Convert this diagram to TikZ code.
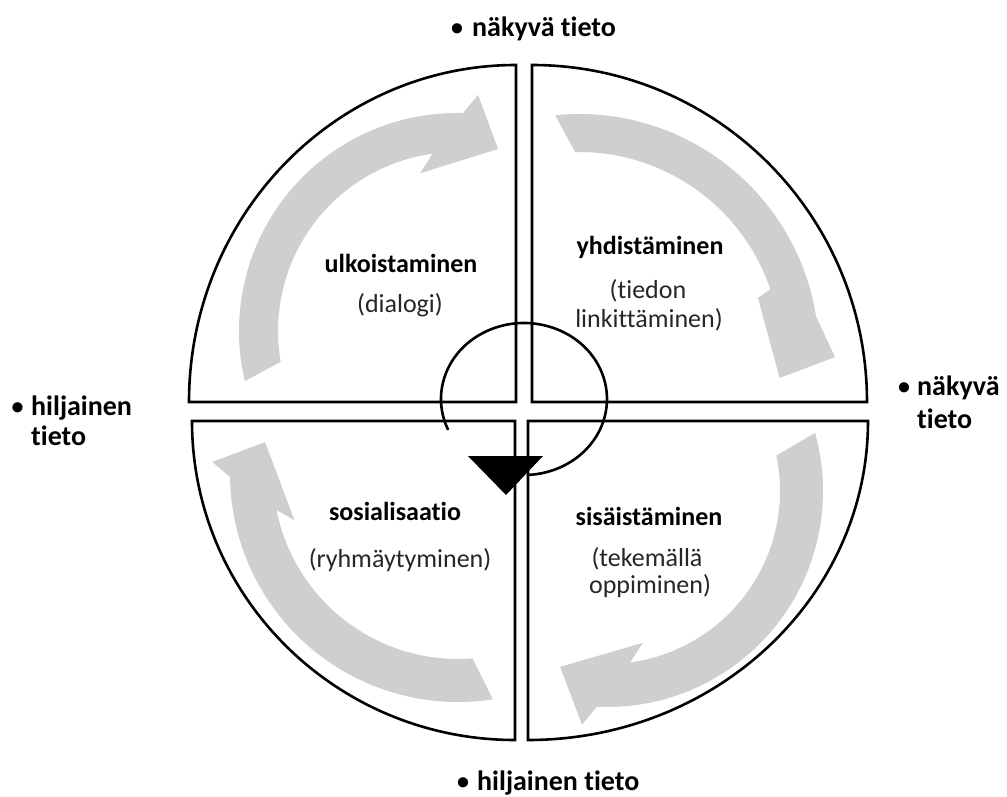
\documentclass[tikz,border=0pt]{standalone}
\usepackage{fontspec}
\setmainfont{Carlito}[Ligatures={NoCommon,NoContextual}]
\usetikzlibrary{calc}
\definecolor{arrowgray}{RGB}{208,206,206}
\definecolor{txt}{RGB}{38,38,38}
\begin{document}
\begin{tikzpicture}[x=1pt,y=-1pt,
  quad/.style={draw=black,fill=white,line width=2.6pt},
  band/.style={fill=arrowgray},
  lbl/.style={font=\fontsize{26}{31}\selectfont\bfseries,anchor=base,inner sep=0pt},
  sub/.style={font=\fontsize{26}{31}\selectfont,anchor=base,inner sep=0pt,text=txt},
  outer/.style={font=\fontsize{28}{33}\selectfont\bfseries,anchor=base west,inner sep=0pt},
  bul/.style={font=\fontsize{24}{28}\selectfont\bfseries,anchor=base,inner sep=0pt}]
\useasboundingbox (0,0) rectangle (1007,797);
% quadrants
\draw[quad] (516,402) -- (189,402) arc[start angle=180,end angle=270,x radius=327,y radius=337] -- cycle;
\draw[quad] (532,402) -- (532,65) arc[start angle=270,end angle=360,x radius=335,y radius=337] -- cycle;
\draw[quad] (528,421) -- (868,421) arc[start angle=0,end angle=90,x radius=340,y radius=319] -- cycle;
\draw[quad] (515,421) -- (515,740) arc[start angle=90,end angle=180,x radius=323,y radius=319] -- cycle;
% curved gray arrows
\coordinate (cTL) at (457,331);
\coordinate (cTR) at (579,354);
\coordinate (cBR) at (607,491);
\coordinate (cBL) at (458,474);
\fill[band] ($(cTL)+(-193.3:218)$) arc[start angle=-193.3,end angle=-88.4,radius=218]
  -- ($(cTL)+(-84.9:237)$) -- ($(cTL)+(-77.3:186.6)$) -- ($(cTL)+(-103.2:162)$)
  -- ($(cTL)+(-97.8:179)$) arc[start angle=-97.8,end angle=-189.9,radius=179] -- cycle;
\fill[band] ($(cTR)+(-95.7:240)$) arc[start angle=-95.7,end angle=-9.0,radius=240]
  -- ($(cTR)+(0.7:256)$) -- ($(cTR)+(6.8:202)$) -- ($(cTR)+(-17.4:187.6)$)
  -- ($(cTR)+(-18.7:202)$) arc[start angle=-18.7,end angle=-91.1,radius=202] -- cycle;
\fill[band] ($(cBR)+(-15.6:216)$) arc[start angle=-15.6,end angle=92.7,radius=216]
  -- ($(cBR)+(96.1:235)$) -- ($(cBR)+(104.9:182)$) -- ($(cBR)+(76.7:156)$)
  -- ($(cBR)+(82.3:173)$) arc[start angle=82.3,end angle=-11.8,radius=173] -- cycle;
\fill[band] ($(cBL)+(81.2:228)$) arc[start angle=81.2,end angle=179.25,radius=228]
  -- ($(cBL)+(182.8:246)$) -- ($(cBL)+(189.4:195.6)$) -- ($(cBL)+(164.2:170)$)
  -- ($(cBL)+(168.8:185)$) arc[start angle=168.8,end angle=85.5,radius=185] -- cycle;
% quadrant texts
\node[lbl] (t1) at (401,272) {ulkoistaminen};
\node[sub] (s1) at (400,312) {(dialogi)};
\node[lbl] (t2) at (650,254) {yhdistäminen};
\node[sub] (s2a) at (648,298) {(tiedon};
\node[sub] (s2b) at (649,327) {linkittäminen)};
\node[lbl] (t3) at (649,525) {sisäistäminen};
\node[sub] (s3a) at (647,566) {(tekemällä};
\node[sub] (s3b) at (650,593) {oppiminen)};
\node[lbl] (t4) at (395,520) {sosialisaatio};
\node[sub] (s4) at (400,567) {(ryhmäytyminen)};
% central cycle arrow
\coordinate (cc) at (524,399);
\draw[line width=2.6pt] ($(cc)+(156:83 and 76)$) arc[start angle=156,end angle=448,x radius=83,y radius=76];
\coordinate (h1) at (468,456);
\coordinate (h2) at (543,456);
\coordinate (h3) at (506,495);
\fill[black] (h1) -- (h2) -- (h3) -- cycle;
% outer labels
\node[bul] (b1) at (457,36) {•};
\node[outer] (o1) at (472,37) {näkyvä tieto};
\node[bul] (b2) at (463,789) {•};
\node[outer] (o2) at (477,790) {hiljainen tieto};
\node[bul] (b3) at (17.5,414) {•};
\node[outer] (o3a) at (31,415) {hiljainen};
\node[outer] (o3b) at (31,445) {tieto};
\node[bul] (b4) at (904,394) {•};
\node[outer] (o4a) at (917,395) {näkyvä};
\node[outer] (o4b) at (917,428) {tieto};
\end{tikzpicture}
\end{document}
